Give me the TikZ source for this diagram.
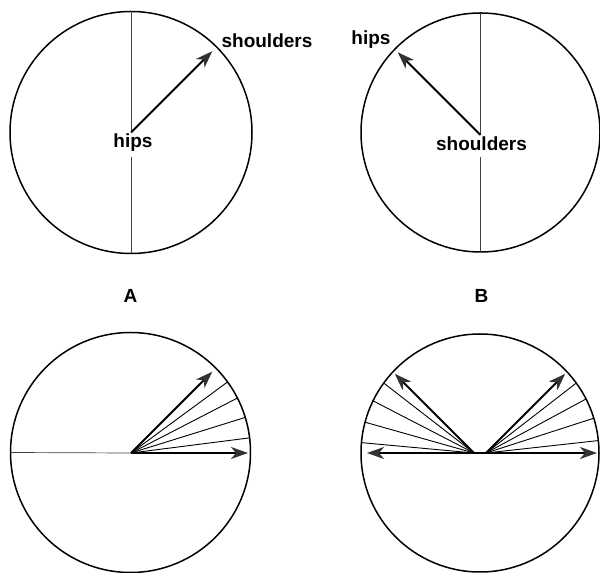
\documentclass[tikz,border=0pt]{standalone}
\usepackage{fontspec}
\setmainfont{Liberation Sans}
\usetikzlibrary{arrows.meta}
\begin{document}
\begin{tikzpicture}[x=1pt,y=1pt,
  ring/.style={circle, draw, line width=1.5pt, inner sep=0pt, outer sep=0pt},
  axis/.style={line width=0.7pt, black!75},
  ray/.style={line width=0.9pt},
  vec/.style={line width=1.9pt, -{Stealth[length=17pt,width=12pt,inset=5pt,color=black!80]}},
  lbl/.style={font=\fontsize{19}{23}\selectfont\bfseries, inner sep=0pt},
]
\useasboundingbox (0,0) rectangle (600,573);

% --- A: hips at the centre, shoulders turned ---
\node[ring, minimum size=242pt] (ringA) at (131,440.5) {};
\coordinate (hipsA) at (131,440.5);
\coordinate (gapA) at (131,416);
\node[lbl, anchor=base] (hipsAlbl) at (133,425) {hips};
\node[lbl, anchor=base] (shAlbl) at (267,525) {shoulders};
\coordinate (tipA) at ([shift={(45:115)}]hipsA);
\draw[axis] (ringA.north) -- (hipsA);
\draw[axis] (gapA) -- (ringA.south);
\draw[vec] (hipsA) -- (tipA);
\node[lbl, anchor=base] (labA) at (130.5,270) {A};

% --- B: shoulders at the centre, hips turned ---
\node[ring, minimum size=239pt] (ringB) at (480.5,440.5) {};
\coordinate (shB) at (480.5,438);
\coordinate (gapB) at (480.5,416);
\node[lbl, anchor=base] (shBlbl) at (481.5,422) {shoulders};
\node[lbl, anchor=base] (hipsBlbl) at (371,528) {hips};
\coordinate (tipB) at ([shift={(135:117)}]shB);
\draw[axis] (ringB.north) -- (shB);
\draw[axis] (gapB) -- (ringB.south);
\draw[vec] (shB) -- (tipB);
\node[lbl, anchor=base] (labB) at (481.5,270) {B};

% --- lower left: one sweep ---
\node[ring, minimum size=240pt] (ringC) at (130.5,120.5) {};
\coordinate (oC) at (131,120);
\coordinate (tipC1) at (248,120);
\coordinate (tipC2) at ([shift={(45:115)}]oC);
\draw[axis] (ringC.west) -- (oC);
\foreach \a in {36,27,17,7} \draw[ray] (oC) -- (ringC.\a);
\draw[vec] (oC) -- (tipC1);
\draw[vec] (oC) -- (tipC2);

% --- lower right: two sweeps ---
\node[ring, minimum size=238pt] (ringD) at (480,120) {};
\coordinate (oL) at (474,120);
\coordinate (oR) at (486,120);
\coordinate (tipDL) at (367,120);
\coordinate (tipDR) at (597,120);
\coordinate (tipDUL) at ([shift={(135:112)}]oL);
\coordinate (tipDUR) at ([shift={(45:112)}]oR);
\foreach \a in {144,154,165,175} \draw[ray] (oL) -- (ringD.\a);
\foreach \a in {36,27,17,6} \draw[ray] (oR) -- (ringD.\a);
\draw[vec] (oR) -- (tipDL);
\draw[vec] (oL) -- (tipDR);
\draw[vec] (oL) -- (tipDUL);
\draw[vec] (oR) -- (tipDUR);
\end{tikzpicture}
\end{document}
